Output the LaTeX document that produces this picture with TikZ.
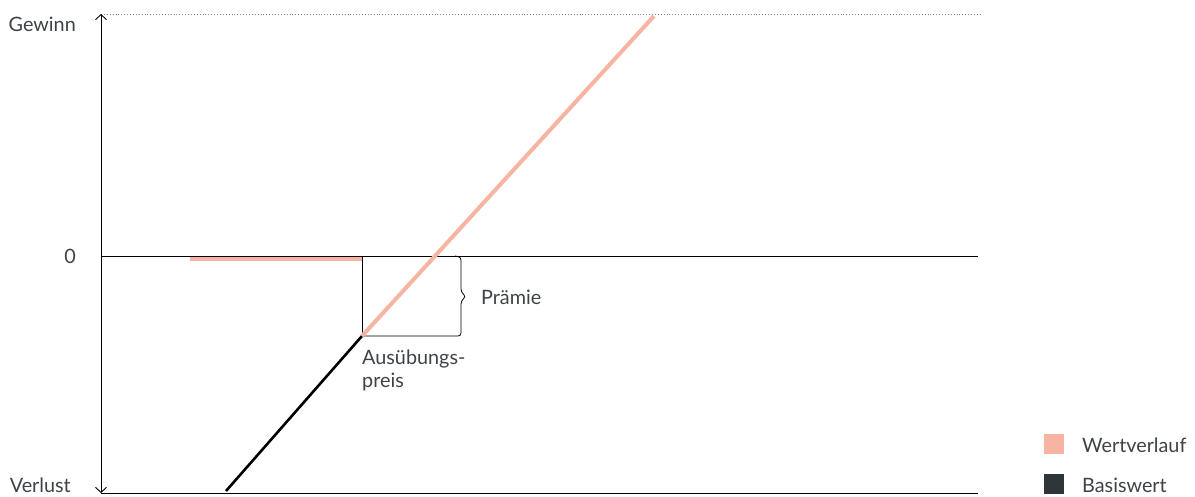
\documentclass[tikz,border=0pt]{standalone}
\usepackage{fontspec}
\setmainfont{Lato}
\usetikzlibrary{arrows.meta}
\definecolor{salmon}{HTML}{F7B4A2}
\definecolor{darkbase}{HTML}{2E3538}
\definecolor{txt}{HTML}{3D4347}
\begin{document}
\begin{tikzpicture}[x=1pt,y=-1pt,
  lbl/.style={font=\fontsize{19.8}{23}\selectfont, text=txt, inner sep=0pt},
  axis/.style={line width=0.9pt, black},
  axarrow/.style={-{Straight Barb[length=5pt,width=11pt,line width=0.9pt]}},
  payoff/.style={line width=4pt, salmon},
  base/.style={line width=2.6pt, black},
  legendbox/.style={minimum width=20pt, minimum height=20pt, inner sep=0pt}]
\useasboundingbox (0,0) rectangle (1195,496);
% axis points
\coordinate (ytop) at (101,14);
\coordinate (ybot) at (101,493);
\coordinate (yzero) at (101,256);
\coordinate (toend) at (980,14);
\coordinate (zeroend) at (978,256);
\coordinate (botend) at (978,493);
\coordinate (flatstart) at (190,259);
\coordinate (flatend) at (362,259);
\coordinate (strike) at (362,336);
\coordinate (strikezero) at (362,256);
\coordinate (payend) at (654,16);
\coordinate (basestart) at (226,491);
% axes
\draw[axis] (yzero) -- (zeroend);
\draw[axis] (ybot) -- (botend);
\draw[line width=0.9pt, dotted, gray] (ytop) -- (toend);
\draw[axis, axarrow] (yzero) -- (ytop);
\draw[axis, axarrow] (yzero) -- (ybot);
% vertical at strike
\draw[line width=0.8pt, black] (strikezero) -- (strike);
% brace
\draw[line width=0.8pt, black, rounded corners=3pt] (strike) -- (461,336) -- (461,301) -- (466,296.5) -- (461,292) -- (461,257) -- (455,256);
% payoff lines
\draw[base] (basestart) -- (strike);
\draw[payoff] (flatstart) -- (flatend);
\draw[payoff] (strike) -- (payend);
% labels
\node[lbl, anchor=east] (gewinn) at (76,24) {Gewinn};
\node[lbl, anchor=east] (null) at (76,256) {0};
\node[lbl, anchor=east] (verlust) at (71,485.5) {Verlust};
\node[lbl, anchor=west] (praemie) at (481,297) {Prämie};
\node[lbl, anchor=north west, align=left] (ausueb) at (362,350) {Ausübungs-\\preis};
% legend
\node[legendbox, fill=salmon] (lsalmon) at (1054,444) {};
\node[legendbox, fill=darkbase] (ldark) at (1054,484) {};
\node[lbl, anchor=west] (lwert) at (1082,445.5) {Wertverlauf};
\node[lbl, anchor=west] (lbasis) at (1082,485) {Basiswert};
\end{tikzpicture}
\end{document}
